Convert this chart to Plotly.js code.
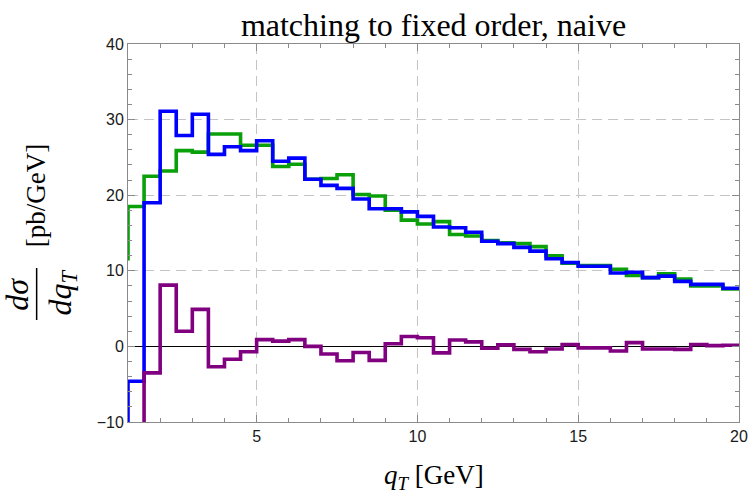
<!DOCTYPE html>
<html>
<head>
<meta charset="utf-8">
<script src="https://cdn.plot.ly/plotly-3.0.1.min.js"></script>
<style>
  html, body { margin: 0; padding: 0; background: #ffffff; }
  #chart { width: 750px; height: 496px; }
</style>
</head>
<body>
<div id="chart"></div>
<script>
// Bin edges in q_T [GeV] (bin width 0.5); the first bin lies just left of the visible range
const binEdges = [0.5, 1, 1.5, 2, 2.5, 3, 3.5, 4, 4.5, 5, 5.5, 6, 6.5, 7, 7.5, 8, 8.5, 9, 9.5, 10,
                  10.5, 11, 11.5, 12, 12.5, 13, 13.5, 14, 14.5, 15, 15.5, 16, 16.5, 17, 17.5, 18,
                  18.5, 19, 19.5, 20];

// dσ/dq_T per bin [pb/GeV]
const fixedOrder = [11.6, 18.5, 22.5, 23.2, 25.9, 25.7, 28.1, 28.1, 26.6, 26.6, 23.8, 24.1, 22.1,
                    22.2, 22.7, 20.1, 19.9, 18.0, 16.7, 16.2, 16.5, 14.8, 14.6, 14.0, 13.7, 13.6,
                    13.2, 12.0, 11.0, 10.7, 10.7, 10.2, 9.4, 9.1, 9.6, 8.9, 8.0, 8.0, 7.6];

const matched = [-20.0, -4.6, 19.0, 31.1, 27.9, 30.7, 25.4, 26.4, 25.9, 27.2, 24.5, 24.9, 22.1,
                 21.3, 20.9, 19.5, 18.2, 18.2, 17.8, 17.2, 15.8, 15.7, 15.1, 13.9, 13.6, 13.1,
                 12.6, 11.6, 11.1, 10.6, 10.6, 9.7, 9.8, 9.1, 9.3, 8.6, 8.2, 8.2, 7.7];

const difference = [-25.0, -23.0, -3.5, 8.1, 2.0, 4.9, -2.7, -1.7, -0.7, 0.9, 0.7, 0.9, 0.0,
                    -1.0, -1.9, -0.8, -1.85, 0.35, 1.3, 1.15, -0.85, 0.85, 0.6, -0.25, 0.2, -0.4,
                    -0.7, -0.35, 0.25, -0.2, -0.2, -0.6, 0.5, -0.35, -0.35, -0.4, 0.25, 0.1, 0.15];

const xTickVals = [5, 10, 15, 20];
const yTickVals = [-10, 0, 10, 20, 30, 40];

// Turn per-bin values into a step outline: left edges plus the closing right edge
function stepTrace(values, color) {
  const xs = binEdges.slice();
  const ys = values.concat([values[values.length - 1]]);
  return {
    x: xs, y: ys, type: 'scatter', mode: 'lines',
    line: { shape: 'hv', color: color, width: 3.6 },
    hoverinfo: 'skip', showlegend: false
  };
}

const traces = [
  stepTrace(fixedOrder, 'rgb(10,160,10)'),
  stepTrace(matched, 'rgb(0,0,255)'),
  stepTrace(difference, 'rgb(128,0,128)')
];

// pixel helpers for the hand-placed y label (plot area: x 127.5..739.5, y 44..422)
const L = 127.5, W = 612, B = 422, H = 378;
const px = v => (v - L) / W;
const py = v => (B - v) / H;

const serif = 'Liberation Serif, Times New Roman, serif';
const frameColor = '#8a8a8a';

const axisCommon = {
  showline: true, linecolor: frameColor, linewidth: 1, mirror: 'ticks',
  ticks: 'inside', ticklen: 7, tickwidth: 1, tickcolor: frameColor,
  showgrid: true, gridcolor: '#c4c4c4', gridwidth: 1, griddash: '10px,6px',
  tickfont: { family: 'Liberation Sans, Arial, sans-serif', size: 16, color: '#1a1a1a' },
  fixedrange: true
};

const layout = {
  width: 750, height: 496,
  margin: { l: 127.5, r: 10.5, t: 44, b: 74 },
  paper_bgcolor: '#ffffff', plot_bgcolor: '#ffffff',
  title: {
    text: 'matching to fixed order, naive',
    font: { family: serif, size: 32, color: '#000000' },
    x: 0.5, xref: 'paper', xanchor: 'center',
    y: 1 - 25 / 496, yref: 'container', yanchor: 'middle'
  },
  xaxis: Object.assign({}, axisCommon, {
    range: [1, 20], tickmode: 'array', tickvals: xTickVals,
    ticktext: xTickVals.map(String), zeroline: false,
    minor: { ticks: 'inside', dtick: 1, tick0: 0, ticklen: 4, tickcolor: frameColor, showgrid: false }
  }),
  yaxis: Object.assign({}, axisCommon, {
    range: [-10, 40], tickmode: 'array', tickvals: yTickVals,
    ticktext: yTickVals.map(v => v < 0 ? '\u2212' + Math.abs(v) : String(v)),
    zeroline: true, zerolinecolor: '#000000', zerolinewidth: 1,
    minor: { ticks: 'inside', dtick: 2, tick0: 0, ticklen: 4, tickcolor: frameColor, showgrid: false }
  }),
  shapes: [
    { type: 'line', xref: 'paper', yref: 'paper',
      x0: px(36), x1: px(36), y0: py(320), y1: py(268),
      line: { color: '#000000', width: 1.5 } }
  ],
  annotations: [
    { text: '<i>q</i><sub><i>T</i></sub> [GeV]', xref: 'paper', yref: 'paper',
      x: 0.5, y: py(477), xanchor: 'center', yanchor: 'middle', showarrow: false,
      font: { family: serif, size: 27, color: '#000000' } },
    { text: '<i>d\u03C3</i>', xref: 'paper', yref: 'paper', textangle: -90,
      x: px(16), y: py(294), xanchor: 'center', yanchor: 'middle', showarrow: false,
      font: { family: serif, size: 32, color: '#000000' } },
    { text: '<i>dq</i><sub><i>T</i></sub>', xref: 'paper', yref: 'paper', textangle: -90,
      x: px(61), y: py(293), xanchor: 'center', yanchor: 'middle', showarrow: false,
      font: { family: serif, size: 32, color: '#000000' } },
    { text: '[pb/GeV]', xref: 'paper', yref: 'paper', textangle: -90,
      x: px(35), y: py(195.5), xanchor: 'center', yanchor: 'middle', showarrow: false,
      font: { family: serif, size: 27, color: '#000000' } }
  ]
};

Plotly.newPlot('chart', traces, layout, { staticPlot: true, displayModeBar: false });
</script>
</body>
</html>
